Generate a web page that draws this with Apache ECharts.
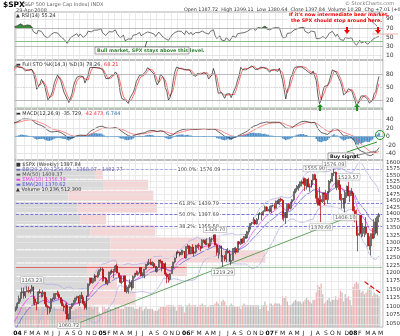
<!DOCTYPE html>
<html><head><meta charset="utf-8">
<script src="https://cdn.jsdelivr.net/npm/echarts@6/dist/echarts.min.js"></script>
<style>html,body{margin:0;padding:0;background:#fff}#c{width:400px;height:336px}</style>
</head><body><div id="c"></div><script>
// ---------- DATA (weekly, weeks ending Fridays from 2003-03-14) ----------
const firstWeek = '2003-03-14';
const visibleFrom = 41; // 2003-12-26
const opens = [
829,833,896,863,879,868,894,899,930,933,947,933,964,988,989,996,976,986,998,993,999,980,978,991,993,1008,1021,1019,1036,997,1030,1038,1039,1029,1051,1053,1050,1035,1058,1062,1074,1089,
1096,1108,1122,1140,1142,1131,1143,1146,1144,1145,1157,1121,1110,1108,1142,1139,1135,1141,1107,1099,1096,1094,1121,1123,1137,1135,1134,1125,1113,1101,1097,1102,1064,1065,1098,1108,1114,1124,1129,1110,1132,1122,1108,1096,1130,1166,1184,1170,1183,1191,1188,1194,1210,
1212,1186,1184,1168,1171,1203,1205,1202,1211,1222,1200,1190,1171,1173,1191,1143,1152,1157,1171,1154,1189,1199,1196,1201,1217,1192,1194,1212,1228,1229,1234,1226,1230,1220,1205,1218,1241,1238,1215,1229,1196,1187,1180,1198,1220,1235,1248,1268,1265,1259,1267,1269,
1248,1286,1288,1262,1284,1264,1267,1287,1289,1287,1281,1307,1303,1295,1295,1288,1311,1311,1326,1291,1267,1280,1288,1252,1252,1245,1270,1265,1236,1240,1279,1279,1267,1302,1295,1311,1299,1320,1315,1336,1350,1366,1369,1377,1364,1381,1401,1401,1397,1410,1427,1411,
1418,1410,1431,1431,1422,1448,1438,1456,1451,1387,1403,1387,1436,1421,1444,1453,1484,1494,1506,1506,1523,1516,1536,1508,1533,1503,1503,1530,1552,1534,1459,1433,1454,1446,1479,1474,1454,1484,1526,1527,1558,1562,1501,1535,1510,1454,1459,1441,1481,1505,1468,1485,
1478,1412,1401,1325,1331,1395,1331,1350,1353,1331,1293,1288,1330,1315,1370,1333,1390];
const highs = [
840,896,896,885,904,896,919,931,950,947,948,965,996,1001,1015,1002,995,1016,1016,1000,1015,988,1000,1011,1009,1029,1030,1040,1040,1039,1048,1054,1045,1053,1063,1059,1052,1060,1074,1075,1089,1099,
1112,1131,1140,1155,1155,1144,1159,1158,1151,1163,1158,1128,1113,1144,1150,1142,1147,1142,1127,1103,1099,1123,1125,1137,1138,1146,1142,1126,1120,1108,1108,1111,1079,1099,1108,1118,1125,1129,1130,1132,1142,1127,1115,1131,1167,1185,1185,1183,1197,1192,1205,1211,1218,
1218,1192,1188,1178,1204,1208,1212,1212,1225,1229,1201,1192,1191,1192,1192,1162,1164,1180,1178,1192,1199,1208,1206,1219,1219,1202,1212,1229,1236,1245,1245,1237,1235,1223,1222,1242,1243,1238,1232,1234,1201,1197,1199,1222,1235,1249,1269,1273,1269,1275,1275,1271,
1286,1294,1289,1286,1294,1275,1292,1293,1298,1288,1310,1310,1310,1314,1296,1318,1316,1326,1327,1295,1281,1291,1289,1258,1258,1276,1281,1275,1261,1280,1283,1285,1303,1305,1312,1315,1322,1329,1340,1353,1366,1371,1389,1382,1385,1403,1407,1407,1414,1431,1429,1427,
1430,1432,1435,1441,1450,1453,1457,1461,1456,1410,1407,1437,1441,1445,1455,1485,1498,1510,1514,1522,1529,1540,1540,1534,1540,1517,1531,1555,1556,1535,1488,1503,1470,1480,1481,1490,1487,1530,1535,1558,1576,1564,1536,1552,1512,1475,1460,1488,1508,1523,1485,1499,
1479,1429,1417,1355,1396,1396,1368,1355,1389,1332,1321,1330,1350,1381,1386,1395,1404];
const lows = [
788,827,855,843,862,864,886,892,919,927,916,932,962,974,987,972,971,985,979,972,980,960,976,990,990,1006,1010,1013,995,995,1019,1033,1018,1029,1045,1045,1031,1035,1050,1056,1068,1084,
1094,1106,1113,1138,1122,1124,1141,1138,1137,1143,1106,1102,1088,1106,1137,1125,1126,1107,1096,1076,1079,1084,1115,1118,1122,1128,1122,1108,1100,1086,1078,1063,1060,1064,1092,1104,1110,1116,1108,1101,1121,1102,1090,1090,1127,1160,1169,1167,1173,1174,1185,1194,1204,
1173,1174,1166,1162,1170,1193,1197,1184,1203,1200,1185,1168,1165,1172,1142,1138,1137,1153,1146,1152,1183,1194,1191,1198,1191,1188,1183,1210,1222,1225,1225,1222,1216,1204,1201,1217,1230,1205,1213,1191,1168,1170,1176,1197,1215,1230,1247,1260,1253,1259,1258,1248,
1246,1278,1261,1260,1261,1254,1262,1281,1276,1270,1280,1298,1291,1291,1280,1283,1300,1302,1290,1256,1246,1259,1235,1219,1237,1234,1263,1236,1225,1240,1265,1260,1266,1291,1291,1294,1298,1312,1313,1327,1344,1359,1363,1361,1362,1378,1396,1377,1395,1409,1410,1411,
1405,1403,1426,1416,1420,1437,1434,1445,1380,1374,1364,1386,1411,1417,1438,1448,1478,1484,1488,1498,1505,1511,1487,1493,1502,1484,1500,1510,1530,1440,1433,1429,1371,1441,1432,1452,1437,1479,1517,1524,1546,1500,1490,1492,1450,1420,1420,1406,1460,1467,1445,1468,
1411,1370,1322,1270,1322,1317,1320,1318,1326,1286,1274,1257,1311,1312,1327,1324,1370];
const closes = [
833,896,863,879,868,894,899,930,933,947,933,964,988,989,996,976,986,998,993,999,980,978,991,993,1008,1021,1019,1036,997,1030,1038,1039,1029,1051,1053,1050,1035,1058,1062,1074,1089,1096,
1108,1122,1140,1142,1131,1143,1146,1144,1145,1157,1121,1110,1108,1142,1139,1135,1141,1107,1099,1096,1094,1121,1123,1137,1135,1134,1125,1113,1101,1097,1102,1064,1065,1098,1108,1114,1124,1129,1110,1132,1122,1108,1096,1130,1166,1184,1170,1183,1191,1188,1194,1210,1212,
1186,1184,1168,1171,1203,1205,1202,1211,1222,1200,1190,1171,1173,1191,1143,1152,1157,1171,1154,1189,1199,1196,1201,1217,1192,1194,1212,1228,1229,1234,1226,1230,1220,1205,1218,1241,1238,1215,1229,1196,1187,1180,1198,1220,1235,1248,1268,1265,1259,1267,1269,1248,
1286,1288,1262,1284,1264,1267,1287,1289,1287,1281,1307,1303,1295,1295,1288,1311,1311,1326,1291,1267,1280,1288,1252,1252,1245,1270,1265,1236,1240,1279,1279,1267,1302,1295,1311,1299,1320,1315,1336,1350,1366,1369,1377,1364,1381,1401,1401,1397,1410,1427,1411,1418,
1410,1431,1431,1422,1448,1438,1456,1451,1387,1403,1387,1436,1421,1444,1453,1484,1494,1506,1506,1523,1516,1536,1508,1533,1503,1503,1530,1552,1534,1459,1433,1454,1446,1479,1474,1454,1484,1526,1527,1558,1562,1501,1535,1510,1454,1459,1441,1481,1505,1468,1485,1478,
1412,1401,1325,1331,1395,1331,1350,1353,1331,1293,1288,1330,1315,1370,1333,1390,1398];
// weekly volume (billions of shares) from 2003-12-26
const volumes = [8,
11,12,11,12,12,11,10,11,11,12,13,12,11,11,10,11,11,10,11,12,10,9,10,11,10,10,10,11,10,11,10,10,10,9,9,9,10,10,11,11,10,10,10,11,11,12,11,10,11,11,11,8,7,
11,11,10,10,11,10,10,10,11,11,11,10,10,10,12,11,11,11,11,11,10,10,10,11,11,9,10,11,10,10,10,10,9,9,9,10,11,11,11,11,12,12,12,12,12,11,9,12,12,12,11,8,
12,12,13,12,12,12,12,11,12,12,13,12,12,11,11,12,12,12,13,14,13,12,14,15,14,12,11,12,13,12,11,11,11,11,10,12,13,12,12,12,12,12,12,12,12,12,10,12,12,14,12,9,
13,13,12,13,13,13,13,12,17,16,17,14,12,12,13,14,15,14,14,14,13,14,15,16,15,14,13,15,15,19,23,22,24,18,13,14,15,16,14,15,15,17,15,16,20,19,14,18,16,17,15,12,
22,24,25,24,21,19,20,18,19,21,22,23,17,19,18,18,17];
// volume-by-price zones: price bounds, up volume, down volume (billions)
const vbpLow  = [1060,1103,1146,1189,1232,1275,1318,1361,1404,1447,1490,1533];
const vbpHigh = [1103,1146,1189,1232,1275,1318,1361,1404,1447,1490,1533,1576];
const vbpUp   = [100,175,180,180,238,238,188,163,155,133,220,200];
const vbpDown = [100,125,75,250,388,275,163,65,200,213,113,20];
// Fibonacci retracement drawn from the 1219.29 low to the 1576.09 high
const fibLevels = [1576.09, 1439.79, 1397.69, 1355.58];
const fibNames  = ['100.0%', '61.8%', '50.0%', '38.2%'];
const fibBase = 1219.29;
const priceTicks = [1050,1075,1100,1125,1150,1175,1200,1225,1250,1275,1300,1325,1350,1375,1400,1425,1450,1475,1500,1525,1550,1575,1600];
const rsiTicks = [10,30,50,70,90];
const stoTicks = [20,50,80];
const macdTicks = [-40,-20,0,20,40];
const monthLetters = ['J','F','M','A','M','J','J','A','S','O','N','D'];

// ---------- helpers ----------
const N = closes.length;
const NC = N + 2;
const cats = [];
const t0 = Date.UTC(2003, 2, 14);
for (let i = 0; i < NC; i++) {
  const d = new Date(t0 + i * 7 * 86400000);
  cats.push(d.toISOString().slice(0, 10));
}
const monthOf = i => +cats[i].slice(5, 7) - 1;
const isMonthStart = i => i > 0 && monthOf(i) !== monthOf(i - 1);
function idx(date) { return cats.indexOf(date); }

function smaArr(a, n) { const o = []; for (let i = 0; i < a.length; i++) { if (i < n - 1 || a[i - n + 1] == null) { o.push(null); continue; } let s = 0; for (let j = i - n + 1; j <= i; j++) s += a[j]; o.push(s / n); } return o; }
function emaArr(a, n) { const o = []; const k = 2 / (n + 1); let prev = null, cnt = 0, s = 0; for (let i = 0; i < a.length; i++) { const v = a[i]; if (v == null) { o.push(null); continue; } if (prev == null) { s += v; cnt++; if (cnt === n) { prev = s / n; o.push(prev); } else o.push(null); } else { prev = v * k + prev * (1 - k); o.push(prev); } } return o; }
function stdArr(a, n, m) { const o = []; for (let i = 0; i < a.length; i++) { if (m[i] == null) { o.push(null); continue; } let s = 0; for (let j = i - n + 1; j <= i; j++) s += (a[j] - m[i]) ** 2; o.push(Math.sqrt(s / n)); } return o; }

// RSI 14 (Wilder)
const rsi = [null]; { let ag = 0, al = 0; for (let i = 1; i < N; i++) { const ch = closes[i] - closes[i - 1]; const g = Math.max(ch, 0), l = Math.max(-ch, 0); if (i <= 14) { ag += g / 14; al += l / 14; rsi.push(i === 14 ? 100 - 100 / (1 + ag / al) : null); } else { ag = (ag * 13 + g) / 14; al = (al * 13 + l) / 14; rsi.push(100 - 100 / (1 + ag / al)); } } }
// Full STO 14,3,3
const fastK = []; for (let i = 0; i < N; i++) { if (i < 13) { fastK.push(null); continue; } let hh = -1e9, ll = 1e9; for (let j = i - 13; j <= i; j++) { hh = Math.max(hh, highs[j]); ll = Math.min(ll, lows[j]); } fastK.push(100 * (closes[i] - ll) / (hh - ll)); }
const fullK = smaArr(fastK, 3), fullD = smaArr(fullK, 3);
// MACD 12,26,9
const e12 = emaArr(closes, 12), e26 = emaArr(closes, 26);
const macd = closes.map((c, i) => e26[i] == null ? null : e12[i] - e26[i]);
const sig = emaArr(macd, 9);
const hist = macd.map((m, i) => sig[i] == null ? null : m - sig[i]);
// overlays
const bbMid = smaArr(closes, 20); const bbSd = stdArr(closes, 20, bbMid);
const bbUp = bbMid.map((m, i) => m == null ? null : m + 2 * bbSd[i]);
const bbLo = bbMid.map((m, i) => m == null ? null : m - 2 * bbSd[i]);
const ema10 = emaArr(closes, 10), ema20 = emaArr(closes, 20);

const r2 = a => a.map(v => v == null ? null : +v.toFixed(2));
const candles = closes.map((c, i) => [opens[i], c, lows[i], highs[i]]);
const volData = closes.map((c, i) => { if (i < visibleFrom) return null; const v = volumes[i - visibleFrom]; return { value: v, itemStyle: { color: c < closes[i - 1] ? '#efb3b3' : '#bdbdbd' } }; });
const rsiFill = rsi.map(v => v == null ? null : Math.max(v, 70));

// ---------- layout ----------
const L = 15, R = 17;
const grids = [
  { left: L, right: R, top: 12, height: 48 },
  { left: L, right: R, top: 60, height: 49 },
  { left: L, right: R, top: 109, height: 51 },
  { left: L, right: R, top: 160, height: 167 }
].map(g => Object.assign(g, { show: true, borderColor: '#9a9a9a', borderWidth: 0.8, backgroundColor: 'transparent' }));
const FONT = 'DejaVu Sans';
function xAx(gi, showLabel) {
  return { type: 'category', gridIndex: gi, data: cats, min: visibleFrom, max: NC - 1, boundaryGap: true,
    axisLine: { show: false }, axisTick: { show: false },
    splitLine: { show: true, interval: (i) => isMonthStart(i), lineStyle: { color: '#e4e4e4', width: 0.8 } },
    axisLabel: showLabel ? { show: true, interval: (i) => isMonthStart(i), fontSize: 6, fontFamily: FONT, color: '#222', margin: 3,
      formatter: (v) => { const m = +v.slice(5, 7) - 1; return m === 0 ? '{y|' + v.slice(2, 4) + '}' : monthLetters[m]; },
      rich: { y: { fontWeight: 'bold', fontSize: 6, fontFamily: FONT, color: '#000' } } } : { show: false } };
}
function yAx(gi, min, max, itv, ticks) {
  return { type: 'value', gridIndex: gi, min, max, interval: itv, position: 'right',
    axisLine: { show: false }, axisTick: { show: false }, splitLine: { show: false },
    axisLabel: { fontSize: 6, fontFamily: FONT, color: '#333', margin: 3, formatter: v => ticks.includes(v) ? String(v) : '' } };
}
const hl = (v, color, type, w) => ({ yAxis: v, lineStyle: { color, type: type || 'solid', width: w || 0.8 } });
const mlBase = { silent: true, symbol: 'none', label: { show: false }, animation: false };
const fibLabel = (txt) => ({ show: true, position: 'middle', formatter: txt, fontSize: 5, fontFamily: FONT, color: '#444',
  backgroundColor: '#fff', padding: [0, 1], distance: -3 });

const series = [
  // RSI
  { type: 'line', xAxisIndex: 0, yAxisIndex: 0, data: rsiFill, symbol: 'none', lineStyle: { width: 0 }, areaStyle: { origin: 70, color: '#3c8a3c', opacity: 1 }, z: 1, silent: true },
  { type: 'line', xAxisIndex: 0, yAxisIndex: 0, data: r2(rsi), symbol: 'none', lineStyle: { color: '#333', width: 0.7 }, z: 3,
    markLine: Object.assign({}, mlBase, { data: [hl(90, '#e0e0e0'), hl(70, '#aaaaaa'), hl(50, '#cfcfcf', 'dotted'), hl(30, '#aaaaaa'), hl(10, '#e0e0e0'), hl(41.5, '#8cc08c', 'solid', 1)] }) },
  // STO
  { type: 'line', xAxisIndex: 1, yAxisIndex: 1, data: r2(fullD), symbol: 'none', lineStyle: { color: '#ff4a4a', width: 0.8 }, z: 2,
    markLine: Object.assign({}, mlBase, { data: [hl(80, '#a8a8a8'), hl(50, '#bdbdbd', 'dotted'), hl(20, '#a8a8a8'), hl(5, '#b9d8b9')] }) },
  { type: 'line', xAxisIndex: 1, yAxisIndex: 1, data: r2(fullK), symbol: 'none', lineStyle: { color: '#222', width: 0.7 }, z: 3 },
  // MACD
  { type: 'bar', xAxisIndex: 2, yAxisIndex: 2, data: r2(hist), barWidth: '100%', itemStyle: { color: '#4d8fc6' }, z: 1,
    markLine: Object.assign({}, mlBase, { data: [hl(40, '#e0e0e0'), hl(20, '#e0e0e0'), hl(0, '#7aa7cf'), hl(-20, '#e0e0e0'), hl(-40, '#e0e0e0')] }) },
  { type: 'line', xAxisIndex: 2, yAxisIndex: 2, data: r2(sig), symbol: 'none', lineStyle: { color: '#ff6a6a', width: 0.8 }, z: 2 },
  { type: 'line', xAxisIndex: 2, yAxisIndex: 2, data: r2(macd), symbol: 'none', lineStyle: { color: '#222', width: 0.7 }, z: 3 },
  // price grid lines + labels
  { type: 'line', xAxisIndex: 3, yAxisIndex: 3, data: [], z: 0, silent: true,
    markLine: { silent: true, symbol: 'none', animation: false,
      data: priceTicks.map(p => ({ yAxis: p, lineStyle: { color: '#e6e6e6', width: 0.8, type: 'solid' },
        label: { show: true, position: 'end', formatter: String(p), fontSize: 5.5, fontFamily: FONT, color: '#333', distance: 3 } })) } },
  // volume-by-price
  { type: 'custom', xAxisIndex: 4, yAxisIndex: 3, z: 1, silent: true,
    data: vbpLow.map((lo, i) => [lo, vbpHigh[i], vbpUp[i], vbpDown[i]]),
    encode: { y: [0, 1], x: [2, 3] },
    renderItem: (params, api) => {
      const lo = api.value(0), hi = api.value(1), up = api.value(2), dn = api.value(3);
      const a = api.coord([0, hi]), b = api.coord([up, lo]), c = api.coord([up + dn, lo]);
      const y = a[1] + 0.5, h = b[1] - a[1] - 1;
      return { type: 'group', children: [
        { type: 'rect', shape: { x: a[0], y, width: b[0] - a[0], height: h }, style: { fill: '#d9d9d9' } },
        { type: 'rect', shape: { x: b[0], y, width: c[0] - b[0], height: h }, style: { fill: '#f4d6d6' } } ] };
    } },
  // volume
  { type: 'bar', xAxisIndex: 3, yAxisIndex: 4, data: volData, barWidth: '78%', z: 2, silent: true,
    markLine: Object.assign({}, mlBase, { data: [[{ coord: [idx('2008-02-22'), 25] }, { coord: [NC - 1, 18] , lineStyle: { color: '#e00000', width: 1.2 } }]] }) },
  // Fibonacci lines
  { type: 'line', xAxisIndex: 3, yAxisIndex: 3, data: [], z: 4, silent: true,
    markLine: { silent: true, symbol: 'none', animation: false,
      data: [
        [{ coord: [visibleFrom, fibBase] }, { coord: [idx('2006-01-06'), fibBase], lineStyle: { color: '#e05050', width: 0.8, type: 'solid' } }],
        [{ coord: [idx('2006-01-06'), fibBase] }, { coord: [NC - 1, fibBase], lineStyle: { color: '#8fb88f', width: 0.8, type: 'solid' } }]
      ].concat(fibLevels.map((p, i) => [
        { coord: [visibleFrom, p], label: fibLabel(fibNames[i] + ': ' + p.toFixed(2)) },
        { coord: [NC - 1, p], lineStyle: { color: i === 0 ? '#9a9ae0' : '#5f5fdc', width: 0.8, type: 'dashed' } }
      ])) } },
  // overlays
  { type: 'line', xAxisIndex: 3, yAxisIndex: 3, data: r2(bbUp), symbol: 'none', lineStyle: { color: '#b4b1e6', width: 0.8 }, z: 3 },
  { type: 'line', xAxisIndex: 3, yAxisIndex: 3, data: r2(bbLo), symbol: 'none', lineStyle: { color: '#b4b1e6', width: 0.8 }, z: 3 },
  { type: 'line', xAxisIndex: 3, yAxisIndex: 3, data: r2(ema20), symbol: 'none', lineStyle: { color: '#6a65dc', width: 0.8 }, z: 3 },
  { type: 'line', xAxisIndex: 3, yAxisIndex: 3, data: r2(ema10), symbol: 'none', lineStyle: { color: '#ee44ee', width: 0.8 }, z: 3,
    markLine: Object.assign({}, mlBase, { data: [
      [{ coord: [idx('2004-08-13'), 1042] }, { coord: [idx('2008-01-11'), 1398], lineStyle: { color: '#3f8f3f', width: 0.8, type: 'solid' } }]
    ] }) },
  // candles
  { type: 'candlestick', xAxisIndex: 3, yAxisIndex: 3, data: candles, barWidth: 1.4, z: 5,
    itemStyle: { color: '#ffffff', color0: '#e00000', borderColor: '#333333', borderColor0: '#b00000', borderWidth: 0.7 } },
  // peak/trough labels
  { type: 'scatter', xAxisIndex: 3, yAxisIndex: 3, symbolSize: 0, z: 6, silent: true,
    data: [
      { value: [idx('2004-03-05'), 1163], t: '1163.23', p: 'top' },
      { value: [idx('2004-08-13'), 1060], t: '1060.72', p: 'bottom' },
      { value: [idx('2006-05-12'), 1327], t: '1326.70', p: 'top' },
      { value: [idx('2006-06-16'), 1219], t: '1219.29', p: 'bottom' },
      { value: [idx('2007-07-20'), 1556], t: '1555.90', p: 'top' },
      { value: [idx('2007-10-12'), 1576], t: '1576.09', p: 'top' },
      { value: [idx('2007-12-14'), 1523], t: '1523.57', p: 'top' },
      { value: [idx('2007-08-17'), 1371], t: '1370.60', p: 'bottom' },
      { value: [idx('2007-11-30'), 1406], t: '1406.10', p: 'bottom' },
      { value: [idx('2008-03-20'), 1257], t: '1256.98', p: 'bottom' }
    ].map(d => ({ value: d.value, label: { show: true, position: d.p, distance: 2, formatter: d.t, fontSize: 5, fontFamily: FONT, color: '#333',
      backgroundColor: '#fff', borderColor: '#999', borderWidth: 0.5, padding: [1, 1, 0, 1] } })) }
];

const T = (x, y, text, o) => ({ type: 'text', x, y, silent: true, z: 100, style: Object.assign({ text, fontSize: 5, fontFamily: FONT, fill: '#333' }, o || {}) });
const graphic = [
  T(3, 1, '$SPX', { fontSize: 7.5, fontWeight: 'bold', fill: '#000' }),
  T(22, 2.5, '(S&P 500 Large Cap Index) INDX', { fill: '#666' }),
  T(16, 8, '29-Apr-2008', { fill: '#555' }),
  T(184, 7, 'Open 1387.72  High 1399.11  Low 1380.64  Close 1397.84  Volume 10.2B  Chg +7.01 (+0.51%)', { fill: '#333', fontSize: 4.8 }),
  T(345, 1, '© StockCharts.com', { fill: '#777' }),
  T(16, 13.5, '▲ RSI(14) 55.24', { fill: '#333' }),
  T(16, 62, '▬ Full STO %K(14,3) %D(3) 78.26, ', { fill: '#333' }),
  T(104, 62, '68.21', { fill: '#ff3333' }),
  T(16, 111, '▬ MACD(12,26,9) -35.729, ', { fill: '#333' }),
  T(84, 111, '-42.473, ', { fill: '#ff3333' }),
  T(106, 111, '6.744', { fill: '#2a6fb0' }),
  T(16, 162, '■ $SPX (Weekly) 1397.84', { fill: '#333' }),
  T(16, 167, '▬ BB(20,2.0) 1254.59 - 1368.07 - 1482.77', { fill: '#6a6ab0' }),
  T(16, 172, '▬ MA(50) 1409.37', { fill: '#555' }),
  T(16, 177, '▬ EMA(10) 1356.39', { fill: '#e040e0' }),
  T(16, 182, '▬ EMA(20) 1370.62', { fill: '#5a55d8' }),
  T(16, 187, '▲ Volume 10,236,512,300', { fill: '#333' }),
  // bull market callout
  { type: 'line', shape: { x1: 145, y1: 47, x2: 147, y2: 41 }, style: { stroke: '#333', lineWidth: 0.8 }, z: 99 },
  { type: 'rect', shape: { x: 95, y: 47, width: 94, height: 7 }, style: { fill: '#fff', stroke: '#666', lineWidth: 0.6 }, z: 99 },
  T(97, 48.3, 'Bull market, SPX stays above this level.', { fill: '#2f7f2f', fontWeight: 'bold', fontSize: 4.8 }),
  // bear callout
  { type: 'rect', shape: { x: 287, y: 12, width: 81, height: 12 }, style: { fill: '#fff' }, z: 99 },
  T(289, 12.5, "If it's now intermediate bear market,", { fill: '#ee0000', fontWeight: 'bold', fontSize: 4.8 }),
  T(291, 18, 'the SPX should stop around here.', { fill: '#ee0000', fontWeight: 'bold', fontSize: 4.8 }),
  { type: 'line', shape: { x1: 367, y1: 17, x2: 377, y2: 26 }, style: { stroke: '#333', lineWidth: 0.6 }, z: 99 },
  { type: 'line', shape: { x1: 372, y1: 34, x2: 398, y2: 34 }, style: { stroke: '#f4a0a0', lineWidth: 0.8 }, z: 99 },
  { type: 'polygon', shape: { points: [[346, 27], [348, 27], [348, 30], [350, 30], [347, 34], [344, 30], [346, 30]] }, style: { fill: '#ee0000' }, z: 99 },
  { type: 'polygon', shape: { points: [[377, 27], [379, 27], [379, 30], [381, 30], [378, 34], [375, 30], [377, 30]] }, style: { fill: '#ee0000' }, z: 99 },
  // STO green arrows
  { type: 'polygon', shape: { points: [[320, 104], [323, 107], [321, 107], [321, 111], [319, 111], [319, 107], [317, 107]] }, style: { fill: '#1f8f1f' }, z: 99 },
  { type: 'polygon', shape: { points: [[357, 104], [360, 107], [358, 107], [358, 111], [356, 111], [356, 107], [354, 107]] }, style: { fill: '#1f8f1f' }, z: 99 },
  // MACD buy signal
  { type: 'circle', shape: { cx: 380, cy: 135, r: 4.5 }, style: { fill: 'none', stroke: '#1f8f1f', lineWidth: 1 }, z: 99 },
  { type: 'line', shape: { x1: 347, y1: 152, x2: 377, y2: 142 }, style: { stroke: '#1f8f1f', lineWidth: 0.9 }, z: 99 },
  { type: 'line', shape: { x1: 354, y1: 156, x2: 376, y2: 151 }, style: { stroke: '#333', lineWidth: 0.6 }, z: 99 },
  { type: 'rect', shape: { x: 328, y: 153, width: 26, height: 6.5 }, style: { fill: '#fff', stroke: '#555', lineWidth: 0.6 }, z: 99 },
  T(330, 154.3, 'Buy signal.', { fill: '#111', fontWeight: 'bold', fontSize: 4.8 })
];

const chart = echarts.init(document.getElementById('c'), null, { renderer: 'canvas' });
chart.setOption({
  animation: false,
  backgroundColor: '#fff',
  grid: grids,
  xAxis: [xAx(0, false), xAx(1, false), xAx(2, false), xAx(3, true),
    { type: 'value', gridIndex: 3, min: 0, max: 920, show: false }],
  yAxis: [yAx(0, 0, 105, 5, rsiTicks), yAx(1, 0, 112, 10, stoTicks), yAx(2, -55, 65, 5, macdTicks),
    { type: 'log', gridIndex: 3, min: 1041.8, max: 1612.6, position: 'right', axisLabel: { show: false }, axisLine: { show: false }, axisTick: { show: false }, splitLine: { show: false } },
    { type: 'value', gridIndex: 3, min: 0, max: 92, show: false }],
  series,
  graphic
});
</script></body></html>
